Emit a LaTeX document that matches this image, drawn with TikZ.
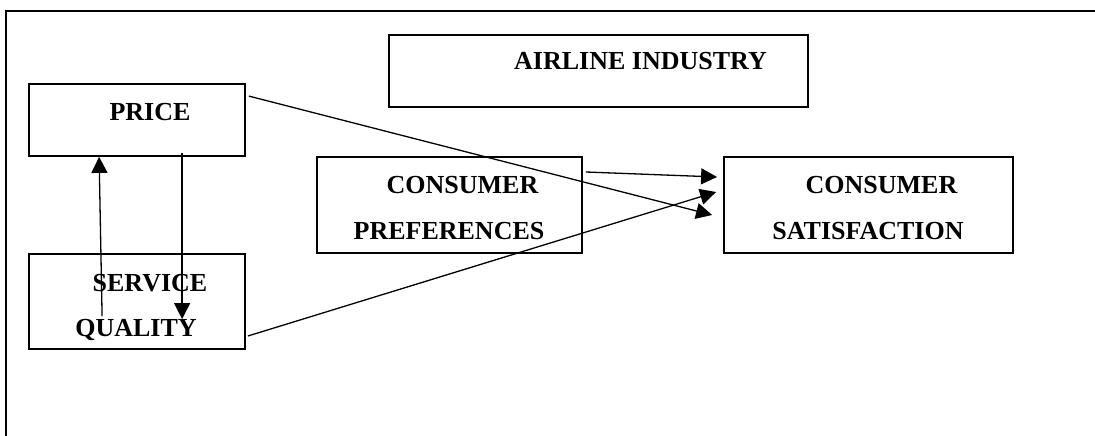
\documentclass[tikz,border=0pt]{standalone}
\usepackage{fontspec}
\setmainfont{Liberation Serif}
\usetikzlibrary{arrows.meta,calc}

\tikzset{
  block/.style={draw=black, line width=1.8pt, rectangle, inner sep=0pt},
  label/.style={font=\fontsize{26}{30}\selectfont\bfseries, inner sep=0pt, anchor=base},
  link/.style={line width=1.3pt, -{Triangle[length=16pt,width=16pt]}},
}

\begin{document}
\begin{tikzpicture}[x=1pt, y=-1pt]
  \useasboundingbox (0,0) rectangle (1095,436);

  % open frame: top and left edges only
  \draw[line width=1.8pt] (6,436) -- (6,11) -- (1095,11);

  % boxes
  \node[block, minimum width=216pt, minimum height=72pt] (price)   at (137,120)   {};
  \node[block, minimum width=216pt, minimum height=95pt] (service) at (137,301.5) {};
  \node[block, minimum width=419pt, minimum height=72pt] (airline) at (598.5,71)  {};
  \node[block, minimum width=265pt, minimum height=96pt] (pref)    at (449.5,205) {};
  \node[block, minimum width=289pt, minimum height=96pt] (satis)   at (868.5,205) {};

  % box texts
  \node[label] (tprice)  at (150,120)   {PRICE};
  \node[label] (tserv1)  at (150,291)   {SERVICE};
  \node[label] (tserv2)  at (136,336)   {QUALITY};
  \node[label] (tair)    at (640.5,70)  {AIRLINE INDUSTRY};
  \node[label] (tpref1)  at (462.5,193) {CONSUMER};
  \node[label] (tpref2)  at (449,239)   {PREFERENCES};
  \node[label] (tsat1)   at (881.5,193) {CONSUMER};
  \node[label] (tsat2)   at (868,239)   {SATISFACTION};

  % connectors
  \draw[link] ($(price.north east)+(3,13)$) -- ($(satis.west)+(-11,10)$);
  \draw[link] ($(pref.east)+(3,-33)$) -- ($(satis.west)+(-6,-28)$);
  \draw[link] ($(service.east)+(2,34.5)$) -- ($(satis.west)+(-7,-13)$);
  \draw[link] ($(service.north west)+(74,63)$) -- ($(price.south west)+(71,0)$);
  \draw[link] ($(price.south west)+(154,-4)$) -- ($(service.north west)+(154,66)$);
\end{tikzpicture}
\end{document}
